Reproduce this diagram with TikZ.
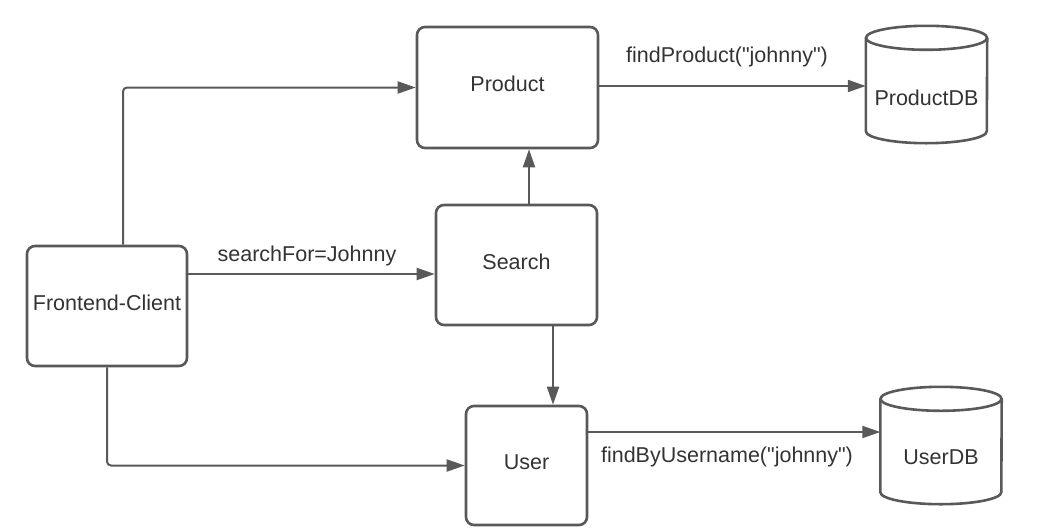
\documentclass[tikz,border=0pt]{standalone}
\usepackage{fontspec}
\setmainfont{Liberation Sans}[Ligatures=TeXOff]
\usetikzlibrary{arrows.meta}
\definecolor{ln}{HTML}{595959}
\definecolor{tx}{HTML}{333333}
\begin{document}
\begin{tikzpicture}[x=1pt,y=-1pt,
  font=\fontsize{21.5}{26}\selectfont, text=tx,
  box/.style={draw=ln, line width=2.6pt, rounded corners=8pt, fill=white, inner sep=0pt, text height=15.5pt, text depth=7.5pt},
  db/.style={inner sep=0pt, minimum width=121pt},
  cyl/.style={draw=ln, line width=2.6pt},
  arr/.style={draw=ln, line width=2pt, rounded corners=4pt, -{Triangle[length=18pt,width=12pt]}},
  lbl/.style={inner sep=0pt}]
\useasboundingbox (0,0) rectangle (1040,530);
% boxes
\node[box, minimum width=181pt, minimum height=121pt] (prod) at (507.5,87.5) {Product};
\node[box, minimum width=161pt, minimum height=120pt] (srch) at (516.5,265) {Search};
\node[box, minimum width=160pt, minimum height=120pt] (fe) at (107,306) {Frontend-Client};
\node[box, minimum width=121pt, minimum height=119pt] (user) at (526.5,465.5) {User};
% databases
\node[db, minimum height=117pt] (pdb) at (926.5,84.5) {};
\node[db, minimum height=117pt] (udb) at (941,445.5) {};
\draw[cyl] ([yshift=-12pt]pdb.north) ellipse [x radius=60.5pt, y radius=12pt];
\draw[cyl] ([yshift=-12pt]pdb.north west) -- ([yshift=12pt]pdb.south west)
  arc[start angle=180, end angle=360, x radius=60.5pt, y radius=12pt] -- ([yshift=-12pt]pdb.north east);
\draw[cyl] ([yshift=-12pt]udb.north) ellipse [x radius=60.5pt, y radius=12pt];
\draw[cyl] ([yshift=-12pt]udb.north west) -- ([yshift=12pt]udb.south west)
  arc[start angle=180, end angle=360, x radius=60.5pt, y radius=12pt] -- ([yshift=-12pt]udb.north east);
\node[lbl] (pdbl) at ([yshift=-13.5pt]pdb.center) {ProductDB};
\node[lbl] (udbl) at ([yshift=-11.5pt]udb.center) {UserDB};
% connectors
\draw[arr] ([xshift=16pt]fe.north) |- (prod.west);
\draw[arr] ([yshift=32pt]fe.east) -- ([yshift=32pt]fe.east -| srch.west);
\draw[arr] (fe.south) |- (user.west);
\draw[arr] ([xshift=12.5pt]srch.north) -- ([xshift=12.5pt]srch.north |- prod.south);
\draw[arr] ([xshift=36.5pt]srch.south) -- ([xshift=36.5pt]srch.south |- user.north);
\draw[arr] ([yshift=1.5pt]prod.east) -- ([yshift=1.5pt]prod.east -| pdb.west);
\draw[arr] ([yshift=33.5pt]user.east) -- ([yshift=33.5pt]user.east -| udb.west);
% labels
\node[lbl] (l1) at (307,256) {searchFor=Johnny};
\node[lbl] (l2) at (727,57) {findProduct("johnny")};
\node[lbl] (l3) at (727,457) {findByUsername("johnny")};
\end{tikzpicture}
\end{document}
